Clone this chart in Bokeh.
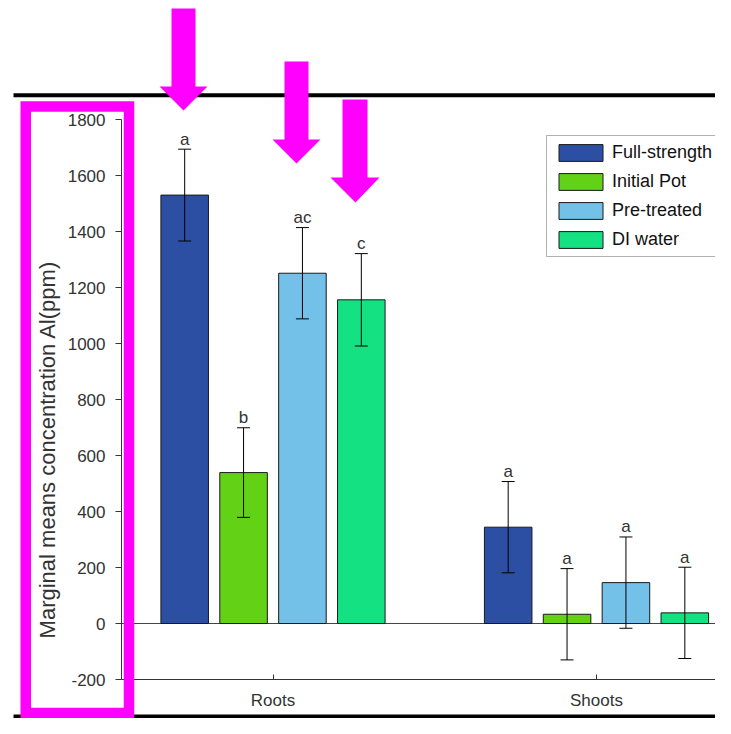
from math import pi
from bokeh.plotting import figure
from bokeh.models import (Range1d, FixedTicker, Whisker, TeeHead, ColumnDataSource,
                          BoxAnnotation, PolyAnnotation, Label, LinearAxis)
from bokeh.core.properties import value
from bokeh.embed import file_html
from bokeh.resources import INLINE

# ---------------- data ----------------
categories = ["Roots", "Shoots"]
treatments = ["Full-strength", "Initial Pot", "Pre-treated", "DI water"]

full_strength = [1530, 344]
initial_pot = [539, 33]
pre_treated = [1251, 146]
di_water = [1156, 38]

full_strength_err = [164, 163]
initial_pot_err = [160, 163]
pre_treated_err = [163, 163]
di_water_err = [165, 163]

full_strength_letters = ["a", "a"]
initial_pot_letters = ["b", "a"]
pre_treated_letters = ["ac", "a"]
di_water_letters = ["c", "a"]

y_ticks = [-200, 0, 200, 400, 600, 800, 1000, 1200, 1400, 1600, 1800]
y_min, y_max = -200, 1800

means = [full_strength, initial_pot, pre_treated, di_water]
errs = [full_strength_err, initial_pot_err, pre_treated_err, di_water_err]
letters = [full_strength_letters, initial_pot_letters, pre_treated_letters, di_water_letters]
colors = ["#2c4fa4", "#63d216", "#73c0e8", "#14e282"]
offsets = [-0.273, -0.091, 0.091, 0.273]
bar_w = 0.147

FONT = "Liberation Sans"
TXT = "#333333"

# ---------------- layout (whole canvas is the frame) ----------------
W, H = 715, 718
AX_LEFT, AX_TOP, AX_BOTTOM = 121, 119, 679       # axes box in canvas pixels
GROUP1_PX, GROUP_STEP = 272.5, 323.5             # pixel of first group, px per group
ppu = (AX_BOTTOM - AX_TOP) / (y_max - y_min)
y0 = y_min - (H - AX_BOTTOM) / ppu
y1 = y_max + AX_TOP / ppu
x0 = 1 - GROUP1_PX / GROUP_STEP
x1 = x0 + W / GROUP_STEP
x_axis_pos = x0 + AX_LEFT / GROUP_STEP

p = figure(width=W, height=H, x_range=Range1d(x0, x1), y_range=Range1d(y0, y1),
           x_axis_location=None, y_axis_location=None,
           output_backend="svg", toolbar_location=None, min_border=0)
p.outline_line_color = None
p.grid.visible = False
p.background_fill_color = "white"
p.border_fill_color = "white"

# zero baseline starting at the y axis
p.segment(x0=[x_axis_pos], y0=[0], x1=[x1], y1=[0], line_color="#444444", line_width=1)

for name, m, e, l, c, off in zip(treatments, means, errs, letters, colors, offsets):
    xs = [i + 1 + off for i in range(len(categories))]
    upper = [mv + ev for mv, ev in zip(m, e)]
    lower = [mv - ev for mv, ev in zip(m, e)]
    src = ColumnDataSource(dict(x=xs, top=m, upper=upper, lower=lower, lab=l))
    p.vbar(x="x", top="top", bottom=0, width=bar_w, source=src, fill_color=c,
           line_color="#1a1a1a", line_width=1, legend_label=name)
    p.add_layout(Whisker(base="x", upper="upper", lower="lower", source=src,
                         line_color="black", line_width=1, level="annotation",
                         upper_head=TeeHead(size=13, line_color="black", line_width=1),
                         lower_head=TeeHead(size=13, line_color="black", line_width=1)))
    p.text(x="x", y="upper", text="lab", source=src, text_align="center",
           text_baseline="alphabetic", y_offset=-10, text_font=value(FONT),
           text_font_size="17px", text_color=TXT)

# axes
yax = LinearAxis(fixed_location=x_axis_pos, bounds=(y_min, y_max))
yax.ticker = FixedTicker(ticks=y_ticks)
yax.major_label_overrides = {t: str(t) for t in y_ticks}
yax.major_tick_out = 6
yax.major_tick_in = 0
yax.minor_tick_line_color = None
yax.major_label_standoff = 10
yax.major_label_text_font = FONT
yax.major_label_text_font_size = "17px"
yax.major_label_text_color = TXT
yax.axis_line_color = TXT
yax.major_tick_line_color = TXT
p.add_layout(yax, "left")

xax = LinearAxis(fixed_location=y_min, bounds=(x_axis_pos, x1))
xax.ticker = FixedTicker(ticks=[1, 2])
xax.major_label_overrides = {i + 1: c for i, c in enumerate(categories)}
xax.major_tick_in = 5
xax.major_tick_out = 0
xax.minor_tick_line_color = None
xax.major_label_standoff = 11
xax.major_label_text_font = FONT
xax.major_label_text_font_size = "17px"
xax.major_label_text_color = TXT
xax.axis_line_color = TXT
xax.major_tick_line_color = TXT
p.add_layout(xax, "below")


def up(y):
    # screen units of annotations are measured upward from the frame bottom
    return H - y


# y-axis title
p.add_layout(Label(x=47, y=up(449), x_units="screen", y_units="screen", angle=pi / 2,
                   text="Marginal means concentration Al(ppm)", text_align="center",
                   text_baseline="middle", text_font=FONT, text_font_size="22px",
                   text_color=TXT))

# legend
lg = p.legend[0]
lg.location = (546, up(257))
lg.padding = 6
lg.spacing = 8
lg.margin = 0
lg.glyph_width = 55
lg.glyph_height = 21
lg.label_height = 21
lg.label_width = 160
lg.label_standoff = 4
lg.label_text_font = FONT
lg.label_text_font_size = "18px"
lg.label_text_color = "#111111"
lg.border_line_color = "#666666"
lg.border_line_width = 1
lg.background_fill_alpha = 1

# decorations: black rules, magenta box and arrows
def box(**kw):
    return BoxAnnotation(left_units="screen", right_units="screen",
                         top_units="screen", bottom_units="screen", level="overlay", **kw)


p.add_layout(box(left=13, right=W, top=up(92.7), bottom=up(96.7),
                 fill_color="black", fill_alpha=1, line_color=None))
p.add_layout(box(left=13, right=W, top=up(714), bottom=up(718),
                 fill_color="black", fill_alpha=1, line_color=None))
p.add_layout(box(left=25.25, right=128.5, top=up(106), bottom=up(712.5),
                 fill_alpha=0, line_color="#ff00ff", line_alpha=1, line_width=10.5,
                 line_join="miter", border_radius=0))

arrows = [
    [(171, 8), (195, 8), (195, 86), (207, 86), (183, 110), (159, 86), (171, 86)],
    [(284, 61), (308, 61), (308, 139), (320, 139), (296, 163), (272, 139), (284, 139)],
    [(342, 99), (367, 99), (367, 177), (379, 177), (355, 202), (330, 177), (342, 177)],
]
for pts in arrows:
    p.add_layout(PolyAnnotation(xs=[x for x, _ in pts], ys=[up(y) for _, y in pts],
                                xs_units="screen", ys_units="screen",
                                fill_color="#ff00ff", fill_alpha=1, line_color=None,
                                level="overlay"))

open("out.html", "w").write(file_html(p, INLINE))
